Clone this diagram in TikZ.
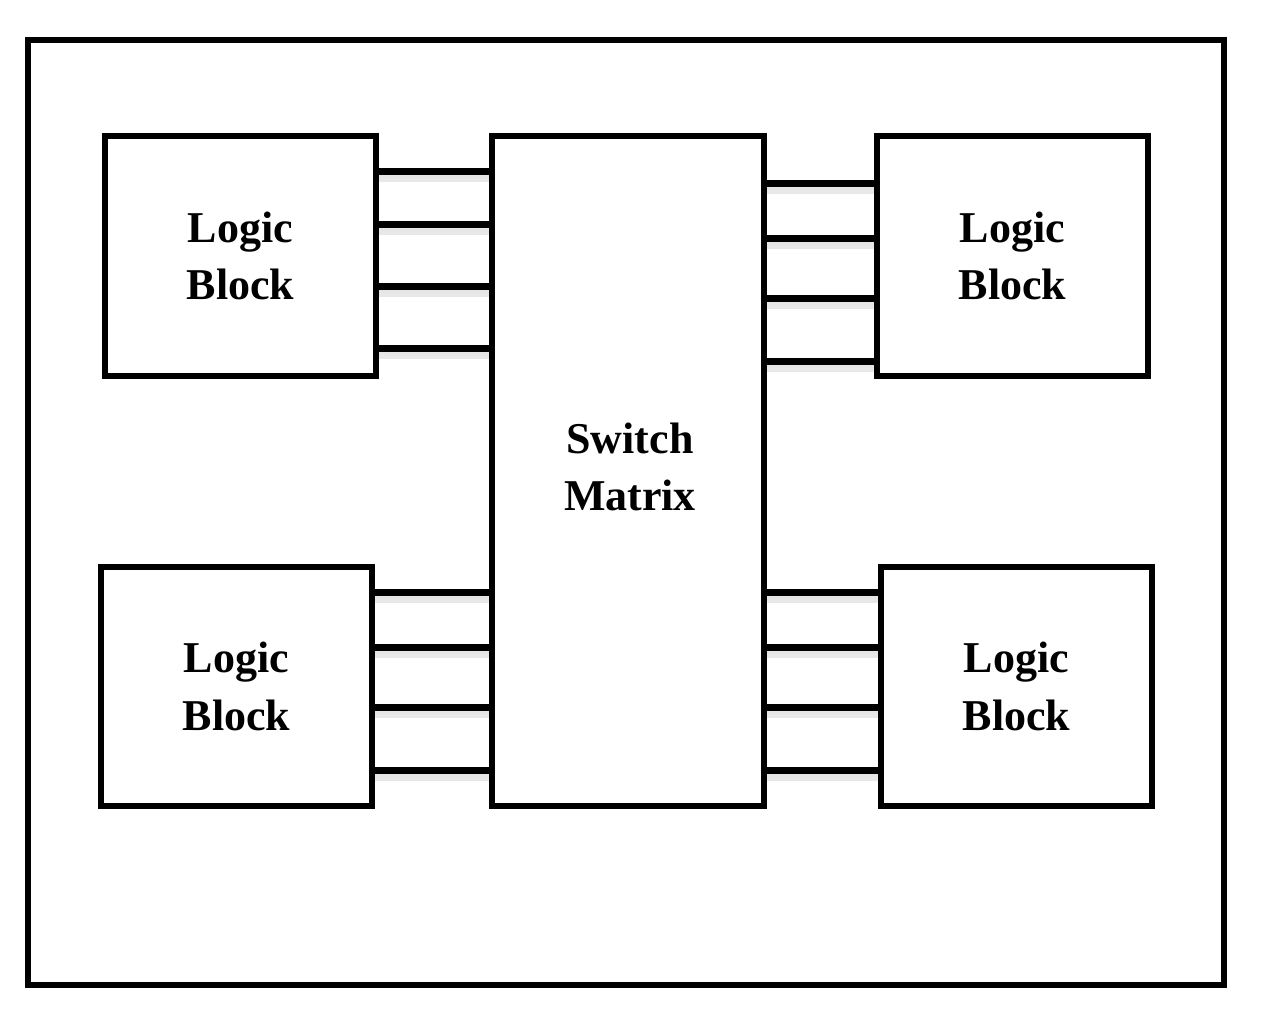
\documentclass[tikz,border=0pt]{standalone}
\usepackage{fontspec}
\setmainfont{Liberation Serif}
\begin{document}
\begin{tikzpicture}[x=0.75pt,y=-0.75pt,
  blk/.style={draw=black,line width=4.5pt,fill=white,rectangle,inner sep=0pt,
    font=\fontsize{33}{43}\selectfont\bfseries,align=center},
  wire/.style={line width=5.25pt,black},
  shad/.style={line width=4pt,black,opacity=0.12}]
\useasboundingbox (0,0) rectangle (1266,1035);
\node[draw=black,line width=4.5pt,rectangle,minimum width=1196*0.75pt,minimum height=945*0.75pt,inner sep=0pt] (frame) at (626,512.5) {};
\node[blk,minimum width=271*0.75pt,minimum height=240*0.75pt] (tl) at (240.5,256) {Logic\\Block};
\node[blk,minimum width=272*0.75pt,minimum height=670*0.75pt] (sm) at (628,471) {};
\node[font=\fontsize{33}{43}\selectfont\bfseries,align=center] (smt) at (630,467) {Switch\\Matrix};
\node[blk,minimum width=271*0.75pt,minimum height=240*0.75pt] (tr) at (1012.5,256) {Logic\\Block};
\node[blk,minimum width=271*0.75pt,minimum height=239*0.75pt] (bl) at (236.5,686.5) {Logic\\Block};
\node[blk,minimum width=271*0.75pt,minimum height=239*0.75pt] (br) at (1016.5,686.5) {Logic\\Block};
% connectors with soft shadows
\foreach \y in {171,224,286,348}{
  \fill[gray!35,opacity=0.5] ([yshift=-3pt]tl.east |- {(0,\y)}) rectangle ([yshift=-8pt]sm.west |- {(0,\y)});
  \fill[gray!20,opacity=0.5] ([yshift=-3pt]tl.east |- {(0,\y)}) rectangle ([yshift=-5pt]sm.west |- {(0,\y)});
  \draw[wire] (tl.east |- {(0,\y)}) -- (sm.west |- {(0,\y)});}
\foreach \y in {183,238,298,361}{
  \fill[gray!35,opacity=0.5] ([yshift=-3pt]sm.east |- {(0,\y)}) rectangle ([yshift=-8pt]tr.west |- {(0,\y)});
  \fill[gray!20,opacity=0.5] ([yshift=-3pt]sm.east |- {(0,\y)}) rectangle ([yshift=-5pt]tr.west |- {(0,\y)});
  \draw[wire] (sm.east |- {(0,\y)}) -- (tr.west |- {(0,\y)});}
\foreach \y in {592,647,707,770}{
  \fill[gray!35,opacity=0.5] ([yshift=-3pt]bl.east |- {(0,\y)}) rectangle ([yshift=-8pt]sm.west |- {(0,\y)});
  \fill[gray!20,opacity=0.5] ([yshift=-3pt]bl.east |- {(0,\y)}) rectangle ([yshift=-5pt]sm.west |- {(0,\y)});
  \draw[wire] (bl.east |- {(0,\y)}) -- (sm.west |- {(0,\y)});
  \fill[gray!35,opacity=0.5] ([yshift=-3pt]sm.east |- {(0,\y)}) rectangle ([yshift=-8pt]br.west |- {(0,\y)});
  \fill[gray!20,opacity=0.5] ([yshift=-3pt]sm.east |- {(0,\y)}) rectangle ([yshift=-5pt]br.west |- {(0,\y)});
  \draw[wire] (sm.east |- {(0,\y)}) -- (br.west |- {(0,\y)});}
\end{tikzpicture}
\end{document}
